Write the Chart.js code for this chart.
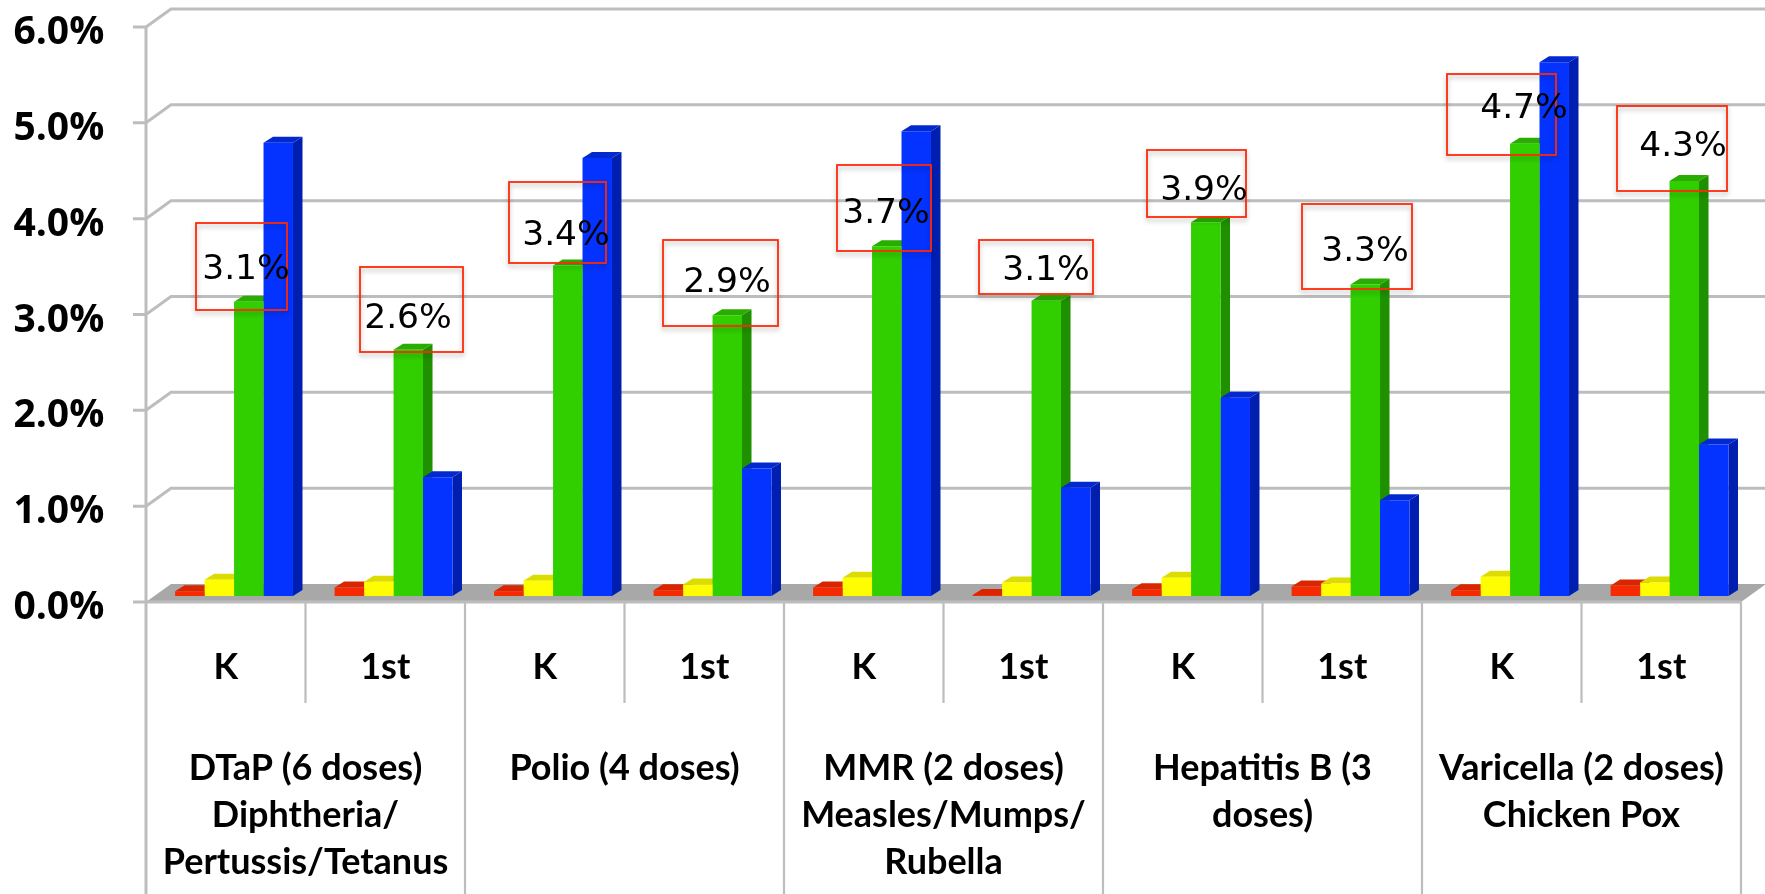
<!DOCTYPE html>
<html>
<head>
<meta charset="utf-8">
<style>html,body{margin:0;padding:0;background:#fff}#wrap{width:1765px;height:894px;position:relative}canvas{filter:blur(0.7px)}</style>
<script src="https://cdn.jsdelivr.net/npm/chart.js@4"></script>
</head>
<body>
<div id="wrap"><canvas id="c"></canvas></div>
<script>
const grades = ["K","1st","K","1st","K","1st","K","1st","K","1st"];
const vaccines = [
  ["DTaP (6 doses)","Diphtheria/","Pertussis/Tetanus"],
  ["Polio (4 doses)"],
  ["MMR (2 doses)","Measles/Mumps/","Rubella"],
  ["Hepatitis B (3","doses)"],
  ["Varicella (2 doses)","Chicken Pox"]
];
const seriesRed    = [0.05,0.09,0.05,0.06,0.09,0.01,0.07,0.10,0.06,0.11];
const seriesYellow = [0.17,0.15,0.16,0.12,0.19,0.14,0.19,0.13,0.20,0.14];
const seriesGreen  = [3.07,2.57,3.45,2.93,3.65,3.08,3.90,3.25,4.72,4.33];
const seriesBlue   = [4.73,1.24,4.57,1.33,4.85,1.13,2.07,1.00,5.57,1.58];
const calloutText  = ["3.1%","2.6%","3.4%","2.9%","3.7%","3.1%","3.9%","3.3%","4.7%","4.3%"];
// callout annotation frames: left, top, width, height, text x, text y
const calloutFrames = [
  [196,223,91,87,246,270],[360,267,103,85,408,319],[509,182,97,81,566,236],
  [663,240,115,86,727,283],[837,165,94,86,886,214],[979,240,114,54,1046,271],
  [1147,150,99,67,1204,191],[1302,204,110,85,1365,252],[1447,74,109,81,1524,109],
  [1617,106,110,85,1683,147]
];
const depthX = 9.5, depthY = 6, wallX = 25, wallDown = 6, wallUp = 12, cellShift = 8.3;
const sideColors = ["#c42200","#d8d800","#1f9000","#001fb0"];
const topColors  = ["#d92600","#dcdc00","#28ad00","#0228d0"];
const gridColor = "#bdbdbd";

const wallsPlugin = {
  id:"walls",
  beforeDatasetsDraw(chart){
    const {ctx,chartArea:a,scales:{y}} = chart;
    const L = a.left-cellShift, cell=(a.right-a.left)/10, R=L+cell*10;
    ctx.save();
    ctx.strokeStyle=gridColor; ctx.lineWidth=3; ctx.lineCap="butt";
    [1,2,3,4,5,6].forEach(v=>{
      const p=y.getPixelForValue(v);
      ctx.beginPath();
      ctx.moveTo(L-13,p+wallDown); ctx.lineTo(L,p+wallDown);
      ctx.lineTo(L+wallX,p-wallUp); ctx.lineTo(chart.width,p-wallUp);
      ctx.stroke();
    });
    const z=y.getPixelForValue(0);
    ctx.fillStyle="#a8a8a8";
    ctx.beginPath();
    ctx.moveTo(L,z+wallDown);ctx.lineTo(L+wallX,z-wallUp);ctx.lineTo(R+wallX,z-wallUp);ctx.lineTo(R,z+wallDown);
    ctx.closePath();ctx.fill();
    ctx.beginPath();ctx.moveTo(L-13,z+wallDown);ctx.lineTo(R,z+wallDown);ctx.stroke();
    ctx.lineWidth=3;
    ctx.beginPath();ctx.moveTo(L,y.getPixelForValue(6)+wallDown);ctx.lineTo(L,chart.height);ctx.stroke();
    ctx.lineWidth=2.2;
    for(let i=1;i<=10;i++){
      const xx=L+cell*i;
      ctx.beginPath();ctx.moveTo(xx,z+wallDown);
      ctx.lineTo(xx,i%2? z+107:chart.height);ctx.stroke();
    }
    // side and top faces of the bars, all under the front faces
    chart.data.datasets.forEach((d,i)=>{
      chart.getDatasetMeta(i).data.forEach(b=>{
        const {x,y:t,width,base}=b.getProps(["x","y","width","base"],true);
        const l=x-width/2,r=x+width/2;
        ctx.fillStyle=sideColors[i];
        ctx.beginPath();ctx.moveTo(r,base);ctx.lineTo(r+depthX,base-depthY);ctx.lineTo(r+depthX,t-depthY);ctx.lineTo(r,t);ctx.closePath();ctx.fill();
        ctx.fillStyle=topColors[i];
        ctx.beginPath();ctx.moveTo(l,t);ctx.lineTo(l+depthX,t-depthY);ctx.lineTo(r+depthX,t-depthY);ctx.lineTo(r,t);ctx.closePath();ctx.fill();
      });
    });
    ctx.restore();
  },
  afterDatasetsDraw(chart){
    const {ctx}=chart;
    ctx.save();
    calloutFrames.forEach((f,i)=>{
      ctx.save();
      ctx.shadowColor="rgba(0,0,0,0.28)";ctx.shadowBlur=5;ctx.shadowOffsetY=3;
      ctx.strokeStyle="#ff2a08";ctx.lineWidth=1.8;
      ctx.strokeRect(f[0],f[1],f[2],f[3]);
      ctx.restore();
      ctx.fillStyle="#000";ctx.font="34.5px 'DejaVu Sans'";ctx.textAlign="center";ctx.textBaseline="middle";
      ctx.fillText(calloutText[i],f[4],f[5]);
    });
    ctx.restore();
  }
};

new Chart(document.getElementById("c"),{
  type:"bar",
  plugins:[wallsPlugin],
  data:{labels:grades,datasets:[
    {label:"Red",data:seriesRed,backgroundColor:"#f52a00"},
    {label:"Yellow",data:seriesYellow,backgroundColor:"#fefe00"},
    {label:"Green",data:seriesGreen,backgroundColor:"#31cf00"},
    {label:"Blue",data:seriesBlue,backgroundColor:"#0433ff"}
  ]},
  options:{
    responsive:true,maintainAspectRatio:false,animation:false,devicePixelRatio:1,
    layout:{padding:{top:21,right:15.7,left:0,bottom:0}},
    plugins:{legend:{display:false},tooltip:{enabled:false},title:{display:false}},
    datasets:{bar:{categoryPercentage:0.739,barPercentage:1,borderWidth:0}},
    scales:{
      y:{min:0,max:6,
        afterFit(s){s.width=154.3;s.paddingTop=0;s.paddingBottom=0;},
        grid:{display:false,drawTicks:false},border:{display:false},
        ticks:{stepSize:1,padding:50,labelOffset:12,color:"#000",
          font:{family:"'Open Sans'",weight:"bold",size:39},
          callback:v=>Number(v).toFixed(1)+"%"}},
      x:{weight:0,
        afterFit(s){s.height=110;s.paddingLeft=0;s.paddingRight=0;},
        grid:{display:false,drawTicks:false},border:{display:false},
        ticks:{autoSkip:false,maxRotation:0,padding:50,labelOffset:-8.3,color:"#000",
          font:{family:"Lato",weight:"bold",size:36}}},
      x2:{type:"category",position:"bottom",weight:1,labels:vaccines,offset:true,
        afterFit(s){s.height=188;s.paddingLeft=0;s.paddingRight=0;},
        grid:{display:false,drawTicks:false},border:{display:false},
        ticks:{autoSkip:false,maxRotation:0,padding:39,labelOffset:-8.3,color:"#000",
          font:{family:"Lato",weight:"bold",size:36,lineHeight:1.3}}}
    }
  }
});
</script>
</body>
</html>
